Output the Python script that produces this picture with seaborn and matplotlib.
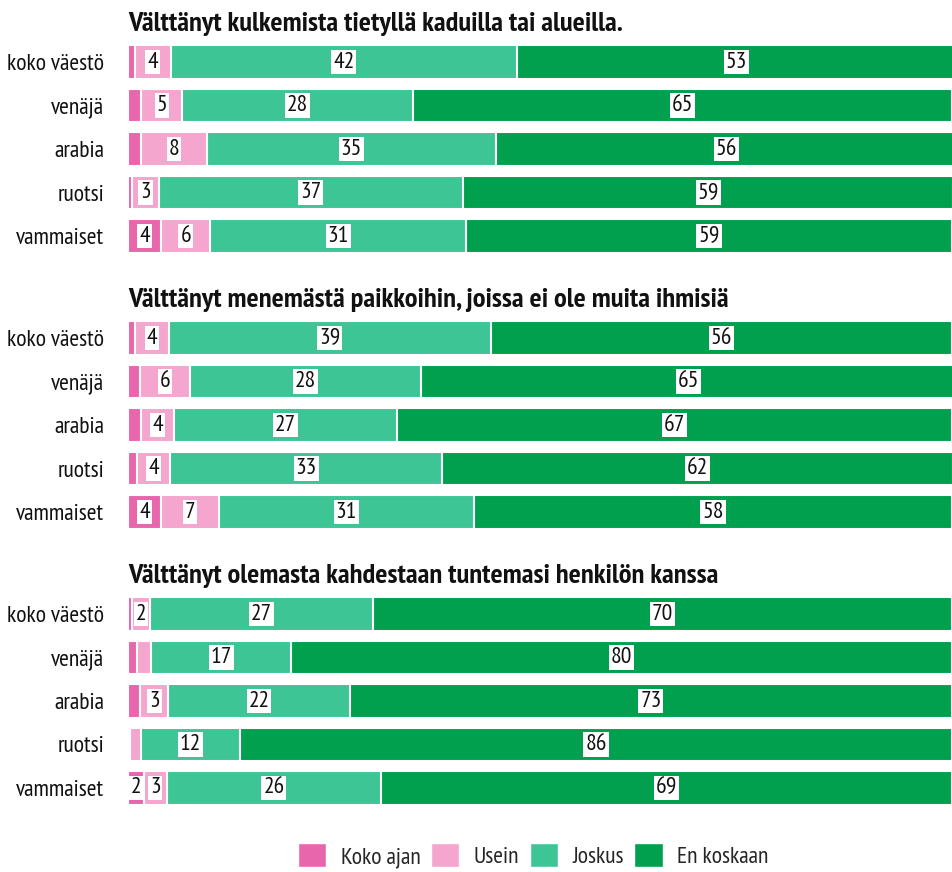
import numpy as np
import pandas as pd
import matplotlib
matplotlib.use("Agg")
import matplotlib.pyplot as plt
import seaborn as sns
from matplotlib.patches import Patch

# -----------------------------
# DATA
# -----------------------------
groups = ["koko väestö", "venäjä", "arabia", "ruotsi", "vammaiset"]
answers = ["Koko ajan", "Usein", "Joskus", "En koskaan"]

titles = [
    "Välttänyt kulkemista tietyllä kaduilla tai alueilla.",
    "Välttänyt menemästä paikkoihin, joissa ei ole muita ihmisiä",
    "Välttänyt olemasta kahdestaan tuntemasi henkilön kanssa",
]

# per panel, one value per group (percent)
koko_ajan = [
    [0.8, 1.6, 1.6, 0.5, 4],
    [0.8, 1.5, 1.6, 1.1, 4],
    [0.5, 1.1, 1.5, 0.2, 1.9],
]
usein = [
    [4.4, 5, 8, 3.2, 6],
    [4.2, 6, 4, 4, 7],
    [2.2, 1.7, 3.4, 1.4, 2.8],
]
joskus = [
    [42, 28, 35, 37, 31],
    [39, 28, 27, 33, 31],
    [27, 17, 22, 12, 26],
]
en_koskaan = [
    [53.3, 65.4, 56, 59.4, 59],
    [56, 65, 67.4, 62, 58],
    [70.3, 80.2, 73.1, 86.4, 69.3],
]

colors = ["#E766AC", "#F4A6CE", "#3DC595", "#00A04E"]

# -----------------------------
# STYLE
# -----------------------------
sns.set_style("white")
plt.rcParams["font.family"] = ["PT Sans Narrow", "DejaVu Sans"]

fig = plt.figure(figsize=(9.52, 8.72), dpi=100)

bottoms = [0.7044, 0.3879, 0.0714]
left, width, height = 0.1345, 0.8655, 0.2494

for p in range(3):
    ax = fig.add_axes([left, bottoms[p], width, height])
    df = pd.DataFrame({
        "group": groups,
        answers[0]: koko_ajan[p],
        answers[1]: usein[p],
        answers[2]: joskus[p],
        answers[3]: en_koskaan[p],
    })
    cum = df[answers].cumsum(axis=1)

    # draw cumulative bars from the widest to the narrowest
    for k in range(3, -1, -1):
        sns.barplot(x=cum[answers[k]], y=df["group"], orient="h", ax=ax,
                    color=colors[k], width=0.78, edgecolor="white",
                    linewidth=1.5, saturation=1)

    # value labels
    for k in range(4):
        vals = df[answers[k]].values
        starts = (cum[answers[k]] - df[answers[k]]).values
        for i, v in enumerate(vals):
            if v >= 1.8:
                ax.text(starts[i] + v / 2, i, f"{int(round(v))}",
                        ha="center", va="center", fontsize=17, color="#111111",
                        bbox=dict(boxstyle="square,pad=0.08", fc="white", ec="none"))

    ax.set_xlim(0, 100)
    ax.set_ylim(4.5, -0.5)
    ax.set_xlabel("")
    ax.set_ylabel("")
    ax.set_xticks([])
    ax.tick_params(axis="y", length=0, labelsize=17, pad=17, colors="#111111")
    sns.despine(ax=ax, left=True, bottom=True)
    ax.set_title(titles[p], loc="left", fontsize=20.5, fontweight="bold",
                 color="#111111", pad=7)

# -----------------------------
# LEGEND
# -----------------------------
handles = [Patch(facecolor=c, edgecolor="white") for c in colors]
fig.legend(handles, answers, loc="lower center", bbox_to_anchor=(0.56, -0.02),
           ncol=4, frameon=False, fontsize=17, handlelength=1.2,
           handleheight=1.2, columnspacing=0.45, handletextpad=0.6)

plt.savefig("out.png", dpi=100)
